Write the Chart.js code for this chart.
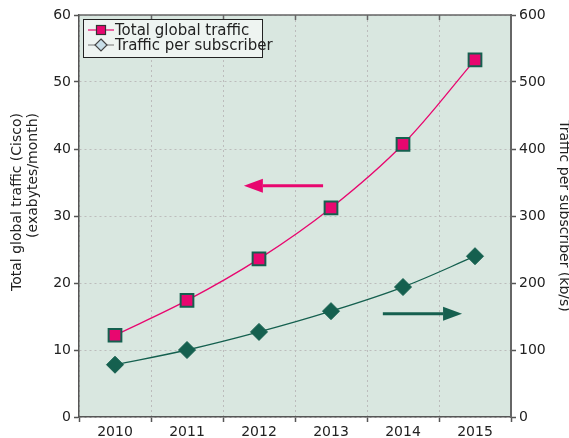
<!DOCTYPE html>
<html>
<head>
<meta charset="utf-8">
<script src="https://cdn.jsdelivr.net/npm/chart.js@4/dist/chart.umd.min.js"></script>
<style>
  html, body { margin: 0; padding: 0; background: #fff; }
  #wrap { width: 569px; height: 438px; }
</style>
</head>
<body>
<div id="wrap"><canvas id="traffic" width="569" height="438"></canvas></div>
<script>
"use strict";

// data
const years = ["2010", "2011", "2012", "2013", "2014", "2015"];
const totalTraffic = [12.2, 17.4, 23.6, 31.2, 40.7, 53.3];      // exabytes/month, left axis
const perSubscriber = [78, 100, 127, 158, 194, 240];             // kb/s, right axis
const seriesNames = ["Total global traffic", "Traffic per subscriber"];
const leftTitle = ["Total global traffic (Cisco)", "(exabytes/month)"];
const rightTitle = "Traffic per subscriber (kb/s)";
// arrows: [x index from, x index to, y value, axis]
const arrowLeft = [2.89, 1.79, 34.5, "y"];
const arrowRight = [3.72, 4.82, 154, "y1"];

const pink = "#e8076f";
const green = "#15604f";
const plotBg = "#d9e7e0";
const font = "'DejaVu Sans', Verdana, sans-serif";

const plotBackground = {
    id: "plotBackground",
    beforeDraw(chart) {
        const a = chart.chartArea, ctx = chart.ctx;
        ctx.save();
        ctx.fillStyle = plotBg;
        ctx.fillRect(a.left, a.top, a.right - a.left, a.bottom - a.top);
        ctx.restore();
    }
};

function drawArrow(chart, spec, color) {
    const ctx = chart.ctx;
    const xs = chart.scales.x, ys = chart.scales[spec[3]];
    const x0 = xs.getPixelForValue(spec[0]);
    const x1 = xs.getPixelForValue(spec[1]);
    const y = ys.getPixelForValue(spec[2]);
    const dir = x1 > x0 ? 1 : -1;
    const head = 19;
    ctx.save();
    ctx.strokeStyle = color;
    ctx.fillStyle = color;
    ctx.lineWidth = 3;
    ctx.beginPath();
    ctx.moveTo(x0, y);
    ctx.lineTo(x1 - dir * head, y);
    ctx.stroke();
    ctx.beginPath();
    ctx.moveTo(x1, y);
    ctx.lineTo(x1 - dir * head, y - 7);
    ctx.lineTo(x1 - dir * head, y + 7);
    ctx.closePath();
    ctx.fill();
    ctx.restore();
}

const extras = {
    id: "extras",
    afterDraw(chart) {
        // left axis title, both lines ending at the same height
        const a = chart.chartArea, ctx = chart.ctx;
        ctx.save();
        ctx.font = "14px " + font;
        ctx.fillStyle = "#222";
        ctx.textAlign = "right";
        ctx.textBaseline = "middle";
        [17, 33].forEach(function(x, i) {
            ctx.save();
            ctx.translate(x, a.top + 98);
            ctx.rotate(-Math.PI / 2);
            ctx.fillText(leftTitle[i], 0, 0);
            ctx.restore();
        });
        ctx.restore();
    },
    afterDatasetsDraw(chart) {
        const a = chart.chartArea, ctx = chart.ctx;
        drawArrow(chart, arrowLeft, pink);
        drawArrow(chart, arrowRight, green);

        // top frame with inward ticks
        ctx.save();
        ctx.strokeStyle = "#666";
        ctx.lineWidth = 1.5;
        ctx.beginPath();
        ctx.moveTo(a.left, a.top);
        ctx.lineTo(a.right, a.top);
        const xs = chart.scales.x;
        for (let i = 0; i < years.length - 1; i++) {
            const px = Math.round(xs.getPixelForValue(i + 0.5)) + 0.5;
            ctx.moveTo(px, a.top);
            ctx.lineTo(px, a.top + 5);
        }
        ctx.stroke();
        ctx.restore();

        // legend box
        const lx = a.left + 4, ly = a.top + 4, lw = 179, lh = 38;
        ctx.save();
        ctx.fillStyle = "#eef4f1";
        ctx.fillRect(lx, ly, lw, lh);
        ctx.strokeStyle = "#222";
        ctx.lineWidth = 1;
        ctx.strokeRect(lx + 0.5, ly + 0.5, lw, lh);
        ctx.font = "15px " + font;
        ctx.textBaseline = "middle";
        const rows = [ly + 11, ly + 26];
        // row 1
        ctx.strokeStyle = pink;
        ctx.lineWidth = 1.2;
        ctx.beginPath();
        ctx.moveTo(lx + 5, rows[0]);
        ctx.lineTo(lx + 31, rows[0]);
        ctx.stroke();
        ctx.fillStyle = pink;
        ctx.fillRect(lx + 13, rows[0] - 5, 10, 10);
        ctx.strokeStyle = "#333";
        ctx.strokeRect(lx + 13.5, rows[0] - 4.5, 9, 9);
        // row 2
        ctx.strokeStyle = "#888";
        ctx.beginPath();
        ctx.moveTo(lx + 5, rows[1]);
        ctx.lineTo(lx + 31, rows[1]);
        ctx.stroke();
        ctx.beginPath();
        ctx.moveTo(lx + 18, rows[1] - 6);
        ctx.lineTo(lx + 24, rows[1]);
        ctx.lineTo(lx + 18, rows[1] + 6);
        ctx.lineTo(lx + 12, rows[1]);
        ctx.closePath();
        ctx.fillStyle = "#c9dfe8";
        ctx.fill();
        ctx.strokeStyle = "#444";
        ctx.stroke();
        ctx.fillStyle = "#222";
        ctx.fillText(seriesNames[0], lx + 32, rows[0] + 1);
        ctx.fillText(seriesNames[1], lx + 32, rows[1] + 1);
        ctx.restore();
    }
};

function fixWidth(w) {
    return function(scale) { scale.width = w; };
}

const gridStyle = {
    color: "#bcbcbc",
    lineWidth: 1,
    tickColor: "#555",
    tickLength: 5,
    tickWidth: 1.5,
    tickBorderDash: [],
    drawTicks: true
};

new Chart(document.getElementById("traffic"), {
    type: "line",
    data: {
        labels: years,
        datasets: [ {
            label: seriesNames[0],
            data: totalTraffic,
            yAxisID: "y",
            borderColor: pink,
            borderWidth: 1.3,
            tension: 0.35,
            pointStyle: "rect",
            pointRadius: 9,
            pointBorderWidth: 2,
            pointBackgroundColor: pink,
            pointBorderColor: green
        }, {
            label: seriesNames[1],
            data: perSubscriber,
            yAxisID: "y1",
            borderColor: green,
            borderWidth: 1.3,
            tension: 0.35,
            pointStyle: "rectRot",
            pointRadius: 8.5,
            pointBorderWidth: 1,
            pointBackgroundColor: green,
            pointBorderColor: green
        } ]
    },
    options: {
        responsive: false,
        animation: false,
        layout: {
            padding: { top: 15, right: 0, left: 0, bottom: 0 }
        },
        plugins: {
            legend: { display: false },
            tooltip: { enabled: false }
        },
        scales: {
            x: {
                type: "category",
                offset: true,
                grid: Object.assign({}, gridStyle, { offset: true }),
                border: { color: "#555", width: 1.5, dash: [2, 3] },
                ticks: { color: "#222", font: { family: font, size: 14 }, padding: 2 },
                afterFit: function(scale) { scale.height = 21; }
            },
            y: {
                position: "left",
                min: 0,
                max: 60,
                ticks: { stepSize: 10, color: "#222", font: { family: font, size: 14 }, padding: 3 },
                grid: gridStyle,
                border: { color: "#555", width: 1.5, dash: [2, 3] },
                afterFit: fixWidth(79)
            },
            y1: {
                position: "right",
                min: 0,
                max: 600,
                ticks: { stepSize: 100, color: "#222", font: { family: font, size: 14 }, padding: 3 },
                grid: { drawOnChartArea: false, tickColor: "#555", tickLength: 5, tickWidth: 1.5 },
                border: { color: "#666", width: 2 },
                title: {
                    display: true,
                    text: rightTitle,
                    color: "#222",
                    font: { family: font, size: 14 },
                    padding: { top: -3, bottom: 0 }
                },
                afterFit: fixWidth(58)
            }
        }
    },
    plugins: [ plotBackground, extras ]
});
</script>
</body>
</html>
